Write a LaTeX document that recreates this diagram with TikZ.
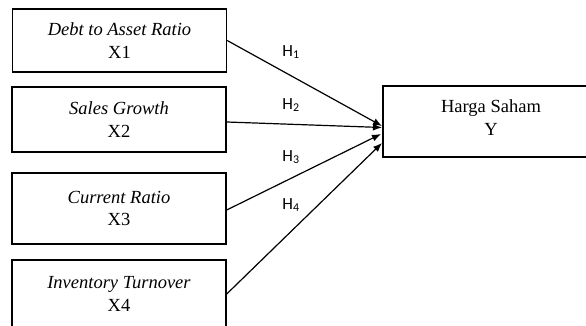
\documentclass[tikz,border=0pt]{standalone}
\usepackage{fontspec}
\setmainfont{Liberation Serif}
\newfontfamily\hfont{Carlito}
\usetikzlibrary{arrows.meta}
\begin{document}
\begin{tikzpicture}[x=1pt,y=-1pt,
  varbox/.style={draw,line width=1.4pt,minimum width=214pt,align=center,font=\fontsize{18.5}{22.5}\selectfont,inner sep=0pt},
  hyp/.style={font=\hfont\fontsize{17}{19}\selectfont},
  link/.style={line width=1.2pt,-{Latex[length=9pt,width=7pt]}}]
\useasboundingbox (0,0) rectangle (586,326);
\clip (0,0) rectangle (586,326);
\node[varbox,minimum height=63pt] (x1) at (119.5,40.5) {\textit{Debt to Asset Ratio}\\X1};
\node[varbox,minimum height=65pt] (x2) at (119,119.5) {\textit{Sales Growth}\\X2};
\node[varbox,minimum height=71pt] (x3) at (119,208.5) {\textit{Current Ratio}\\X3};
\node[varbox,minimum height=68pt] (x4) at (119,294) {\textit{Inventory Turnover}\\X4};
\node[draw,line width=1.4pt,minimum width=210pt,minimum height=71pt,inner sep=0pt] (y) at (488,121.5) {};
\node[align=center,font=\fontsize{18.5}{23}\selectfont] (yt) at (491,117.5) {Harga Saham\\Y};
\coordinate (t1) at (382,126);
\coordinate (t2) at (382,127.5);
\coordinate (t3) at (381,134);
\coordinate (t4) at (382,143);
\draw[link] (x1.east) -- (t1);
\draw[link] (x2.east |- 0,122) -- (t2);
\draw[link] (x3.east |- 0,210) -- (t3);
\draw[link] (x4.east) -- (t4);
\node[hyp] (h1) at (291,52) {H\textsubscript{1}};
\node[hyp] (h2) at (291,105) {H\textsubscript{2}};
\node[hyp] (h3) at (291,157) {H\textsubscript{3}};
\node[hyp] (h4) at (291,205) {H\textsubscript{4}};
\end{tikzpicture}
\end{document}
